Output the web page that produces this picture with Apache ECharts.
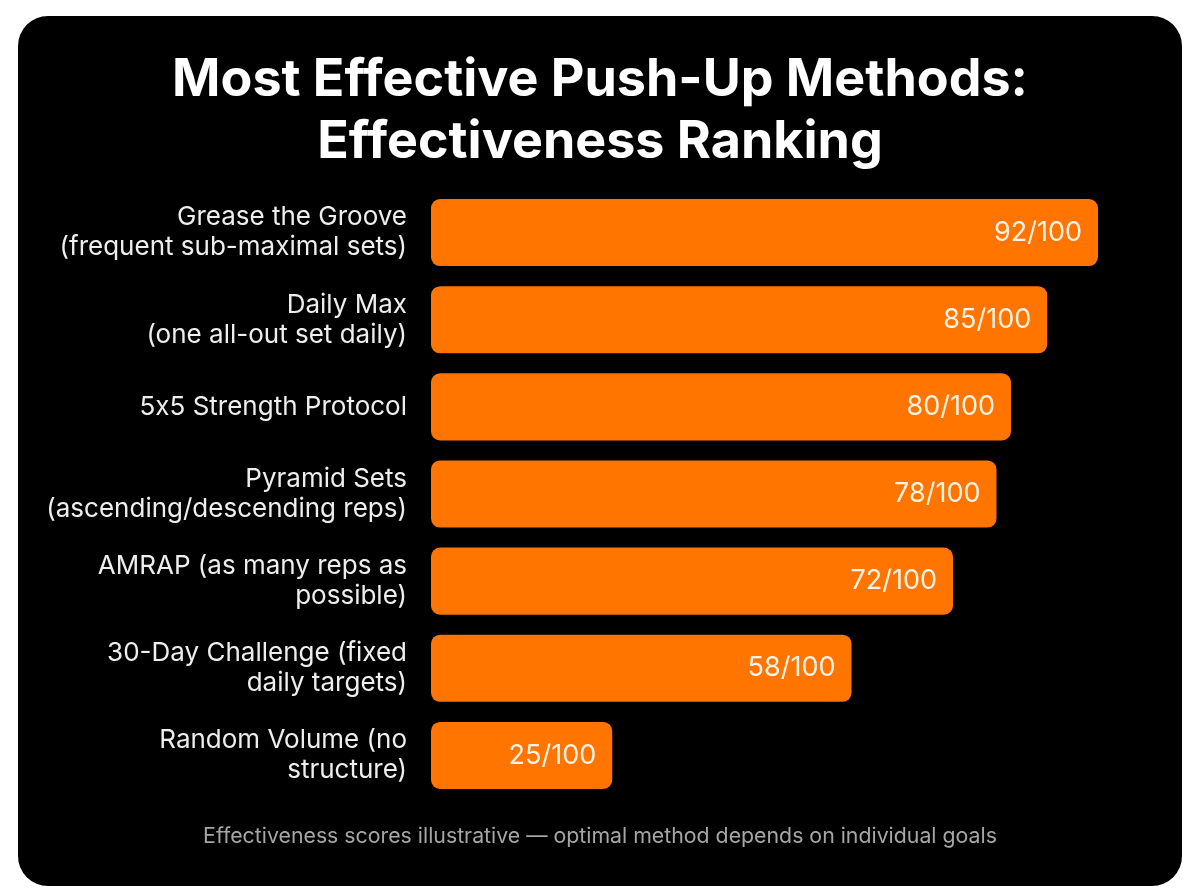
<!DOCTYPE html>
<html><head><meta charset="utf-8">
<script src="https://cdn.jsdelivr.net/npm/echarts@6/dist/echarts.min.js"></script>
<style>html,body{margin:0;padding:0;background:#fff;}#c{width:1200px;height:896px;}</style>
</head><body><div id="c"></div>
<script>
const categories = [
  "Grease the Groove\n(frequent sub-maximal sets)",
  "Daily Max\n(one all-out set daily)",
  "5x5 Strength Protocol",
  "Pyramid Sets\n(ascending/descending reps)",
  "AMRAP (as many reps as\npossible)",
  "30-Day Challenge (fixed\ndaily targets)",
  "Random Volume (no\nstructure)"
];
const scores = [92, 85, 80, 78, 72, 58, 25];
const titleText = "Most Effective Push-Up Methods:\nEffectiveness Ranking";
const footnote = "Effectiveness scores illustrative — optimal method depends on individual goals";

const labelFont = {color: '#eeeeee', fontFamily: 'Inter', fontSize: 26, lineHeight: 30};
const chart = echarts.init(document.getElementById('c'), null, {renderer: 'canvas'});
chart.setOption({
  backgroundColor: '#fff',
  animation: false,
  graphic: [
    {type: 'rect', z: -10, shape: {x: 18, y: 16, width: 1164, height: 870, r: 30}, style: {fill: '#000'}},
    {type: 'text', left: 'center', top: 826, style: {text: footnote, fill: '#a6a6a6', font: '21.3px Inter'}}
  ],
  title: {
    text: titleText, left: 'center', top: 44,
    textStyle: {color: '#fff', fontFamily: 'Inter', fontWeight: 'bold', fontSize: 52, lineHeight: 62}
  },
  grid: {left: 431, right: 44, top: 189, bottom: 97, containLabel: false},
  xAxis: {type: 'value', min: 0, max: 100, show: false},
  yAxis: {
    type: 'category', data: categories, inverse: true,
    axisLine: {show: false}, axisTick: {show: false},
    axisLabel: Object.assign({margin: 24, align: 'right',
      // draw digit-x-digit as separate segments so the font does not swap x for ×
      formatter: v => v.replace(/(\d)x(\d)/g, '$1{s|x}$2'),
      rich: {s: Object.assign({}, labelFont)}
    }, labelFont)
  },
  series: [{
    type: 'bar', data: scores, barCategoryGap: '23%',
    itemStyle: {color: '#FF7500', borderRadius: 9},
    label: {show: true, position: 'insideRight', distance: 16, formatter: p => p.value + '/100',
      color: '#FFF3E6', fontFamily: 'Inter', fontSize: 27}
  }]
});
</script></body></html>
